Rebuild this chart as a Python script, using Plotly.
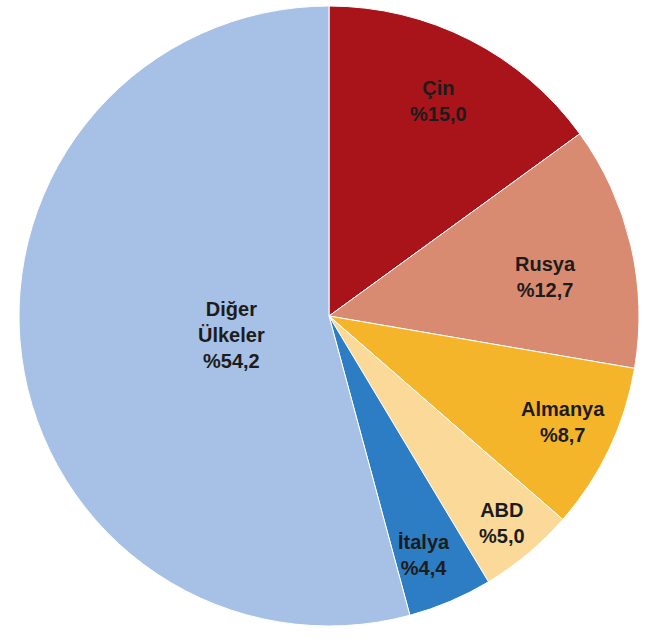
import math
import plotly.graph_objects as go

labels = ["Çin", "Rusya", "Almanya", "ABD", "İtalya", "Diğer Ülkeler"]
values = [15.0, 12.7, 8.7, 5.0, 4.4, 54.2]
text_labels = ["Çin<br>%15,0", "Rusya<br>%12,7", "Almanya<br>%8,7", "ABD<br>%5,0",
               "İtalya<br>%4,4", "Diğer<br>Ülkeler<br>%54,2"]
colors = ["#A8141A", "#D98B72", "#F5B52A", "#FBD998", "#2C7DC3", "#A6C1E5"]
# label placement styling (radial fraction, angular nudge in degrees)
radial = [0.78, 0.71, 0.83, 0.87, 0.83, 0.32]
angle_shift = [0, 3.0, -1.0, 0, 1.3, -3.5]

W, H = 649, 639
cx, cy, R = 329, 316, 310

fig = go.Figure(go.Pie(
    labels=labels, values=values, sort=False, direction="clockwise", rotation=0,
    marker=dict(colors=colors, line=dict(color="white", width=1)),
    textinfo="none", hoverinfo="label+percent", showlegend=False,
    domain=dict(x=[(cx - R) / W, (cx + R) / W], y=[1 - (cy + R) / H, 1 - (cy - R) / H]),
))

total = sum(values)
cum = 0
annotations = []
for i, v in enumerate(values):
    mid = (cum + v / 2) / total * 360 + angle_shift[i]
    cum += v
    th = math.radians(mid)
    px = cx + radial[i] * R * math.sin(th)
    py = cy - radial[i] * R * math.cos(th)
    txt = "<br>".join("<b>" + t + "</b>" for t in text_labels[i].split("<br>"))
    annotations.append(dict(
        x=px / W, y=1 - py / H, xref="paper", yref="paper", text=txt,
        showarrow=False, xanchor="center", yanchor="middle",
        font=dict(family="Liberation Sans, Arial, sans-serif", size=20, color="#1c1c1c"),
    ))

fig.update_layout(
    width=W, height=H, margin=dict(l=0, r=0, t=0, b=0),
    paper_bgcolor="white", plot_bgcolor="white",
    annotations=annotations,
    font=dict(family="Liberation Sans, Arial, sans-serif"),
)

fig.write_html("out.html", config={"displayModeBar": False},
               post_script="document.body.style.margin='0';document.body.style.overflow='hidden';")
